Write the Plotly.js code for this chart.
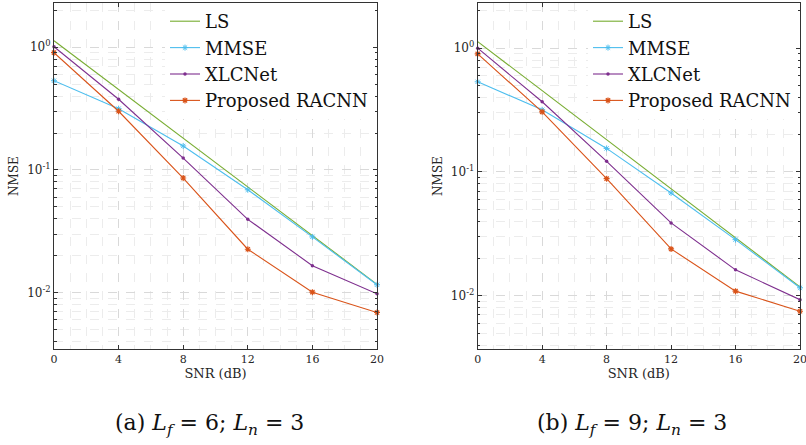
<!DOCTYPE html>
<html><head><meta charset="utf-8">
<script src="https://cdn.plot.ly/plotly-3.0.1.min.js"></script>
<style>html,body{margin:0;padding:0;background:#fff}</style>
</head><body><div id="chart" style="width:806px;height:445px"></div>
<script>
// ---------- data ----------
const snr = [0, 4, 8, 12, 16, 20];
const seriesNames = ['LS', 'MMSE', 'XLCNet', 'Proposed RACNN'];
// panel (a) L_f = 6; L_n = 3
const lsA   = [1.13, 0.453, 0.182, 0.0728, 0.0292, 0.0117];
const mmseA = [0.534, 0.316, 0.157, 0.069, 0.0285, 0.0116];
const xlcA  = [1.01, 0.377, 0.125, 0.0396, 0.0166, 0.0098];
const racA  = [0.904, 0.301, 0.086, 0.0226, 0.0101, 0.0069];
// panel (b) L_f = 9; L_n = 3
const lsB   = [1.13, 0.454, 0.182, 0.0733, 0.0294, 0.0118];
const mmseB = [0.535, 0.318, 0.155, 0.0677, 0.0284, 0.0116];
const xlcB  = [1.0, 0.369, 0.122, 0.0388, 0.0162, 0.0093];
const racB  = [0.9, 0.306, 0.0883, 0.0239, 0.0109, 0.0075];
// ticks and labels
const xTickVals = [0, 4, 8, 12, 16, 20];
const yTickVals = [0.01, 0.1, 1];
const yTickText = ['10<sup>-2</sup>', '10<sup>-1</sup>', '10<sup>0</sup>'];
const xTitle = 'SNR (dB)';
const yTitle = 'NMSE';
const captions = [
  '(a) <i>L</i><sub><i>f</i></sub>&nbsp;=&nbsp;6;&nbsp;<i>L</i><sub><i>n</i></sub>&nbsp;=&nbsp;3',
  '(b) <i>L</i><sub><i>f</i></sub>&nbsp;=&nbsp;9;&nbsp;<i>L</i><sub><i>n</i></sub>&nbsp;=&nbsp;3'
];

// ---------- style ----------
const colors = ['#77AC30', '#4DBEEE', '#7E2F8E', '#D95319'];
const markers = [
  null,
  {symbol: 'asterisk-open', size: 5, line: {width: 1, color: colors[1]}},
  {symbol: 'circle', size: 3.5, color: colors[2]},
  {symbol: 'asterisk-open', size: 5, line: {width: 1.2, color: colors[3]}}
];
const FONT = '"DejaVu Serif", "Liberation Serif", serif';
const W = 806, H = 445;

// minor tick positions (2..9 per decade)
const yMinor = [];
for (let k = -3; k <= 0; k++) for (let m = 2; m <= 9; m++) yMinor.push(m * Math.pow(10, k));

function mkTraces(sets, xa, ya, legendId) {
  return sets.map((ys, i) => {
    const t = {
      x: snr, y: ys, name: seriesNames[i], type: 'scatter',
      xaxis: xa, yaxis: ya, legend: legendId,
      line: {color: colors[i], width: 1.1},
      mode: markers[i] ? 'lines+markers' : 'lines',
      cliponaxis: false
    };
    if (markers[i]) t.marker = markers[i];
    return t;
  });
}

const traces = [
  ...mkTraces([lsA, mmseA, xlcA, racA], 'x', 'y', 'legend'),
  ...mkTraces([lsB, mmseB, xlcB, racB], 'x2', 'y2', 'legend2')
];

function xAxis(domain, anchor) {
  return {
    domain: domain, anchor: anchor, range: [0, 20],
    tickmode: 'array', tickvals: xTickVals,
    ticks: 'inside', ticklen: 4, tickcolor: '#333',
    showline: true, linecolor: '#333', linewidth: 1, mirror: 'ticks',
    showgrid: true, gridcolor: '#d9d9d9', griddash: 'dash', gridwidth: 1,
    zeroline: false, ticklabeloverflow: 'allow',
    tickfont: {family: FONT, size: 11, color: '#262626'},
    title: {text: xTitle, font: {family: FONT, size: 13, color: '#262626'}, standoff: 1},
    minor: {tickmode: 'linear', tick0: 0, dtick: 1, showgrid: true, gridcolor: '#ececec', griddash: 'dash', ticks: ''}
  };
}
function yAxis(domain, anchor, range) {
  return {
    domain: domain, anchor: anchor, type: 'log', range: range,
    tickmode: 'array', tickvals: yTickVals, ticktext: yTickText,
    ticks: 'inside', ticklen: 4, tickcolor: '#333',
    showline: true, linecolor: '#333', linewidth: 1, mirror: 'ticks',
    showgrid: true, gridcolor: '#d9d9d9', griddash: 'dash', gridwidth: 1,
    zeroline: false,
    tickfont: {family: FONT, size: 12, color: '#262626'},
    title: {text: yTitle, font: {family: FONT, size: 12, color: '#262626'}, standoff: 5},
    minor: {tickmode: 'array', tickvals: yMinor, ticks: 'inside', ticklen: 2.5, tickcolor: '#333',
            showgrid: true, gridcolor: '#ececec', griddash: 'dash'}
  };
}

const yDom = [(H - 349) / H, (H - 3) / H];
const legendBase = {
  yanchor: 'top', xanchor: 'left', y: 1 - 3 / H,
  bgcolor: 'rgba(255,255,255,1)', borderwidth: 0,
  font: {family: FONT, size: 18, color: '#111'},
  tracegroupgap: 0, itemwidth: 30
};

const layout = {
  width: W, height: H,
  margin: {l: 0, r: 0, t: 0, b: 0},
  paper_bgcolor: '#fff', plot_bgcolor: '#fff',
  showlegend: true,
  xaxis: xAxis([54 / W, 377 / W], 'y'),
  yaxis: yAxis(yDom, 'x', [-2.459, 0.361]),
  xaxis2: xAxis([477.7 / W, 800 / W], 'y2'),
  yaxis2: yAxis(yDom, 'x2', [-2.43, 0.365]),
  legend: Object.assign({}, legendBase, {x: 165 / W}),
  legend2: Object.assign({}, legendBase, {x: 588 / W}),
  annotations: [
    {text: captions[0], xref: 'paper', yref: 'paper', x: 209 / W, y: 1 - 424 / H,
     xanchor: 'center', yanchor: 'middle', showarrow: false,
     font: {family: FONT, size: 22, color: '#111'}},
    {text: captions[1], xref: 'paper', yref: 'paper', x: 632 / W, y: 1 - 424 / H,
     xanchor: 'center', yanchor: 'middle', showarrow: false,
     font: {family: FONT, size: 22, color: '#111'}}
  ]
};

Plotly.newPlot('chart', traces, layout, {staticPlot: true, displayModeBar: false});
</script>
</body></html>
